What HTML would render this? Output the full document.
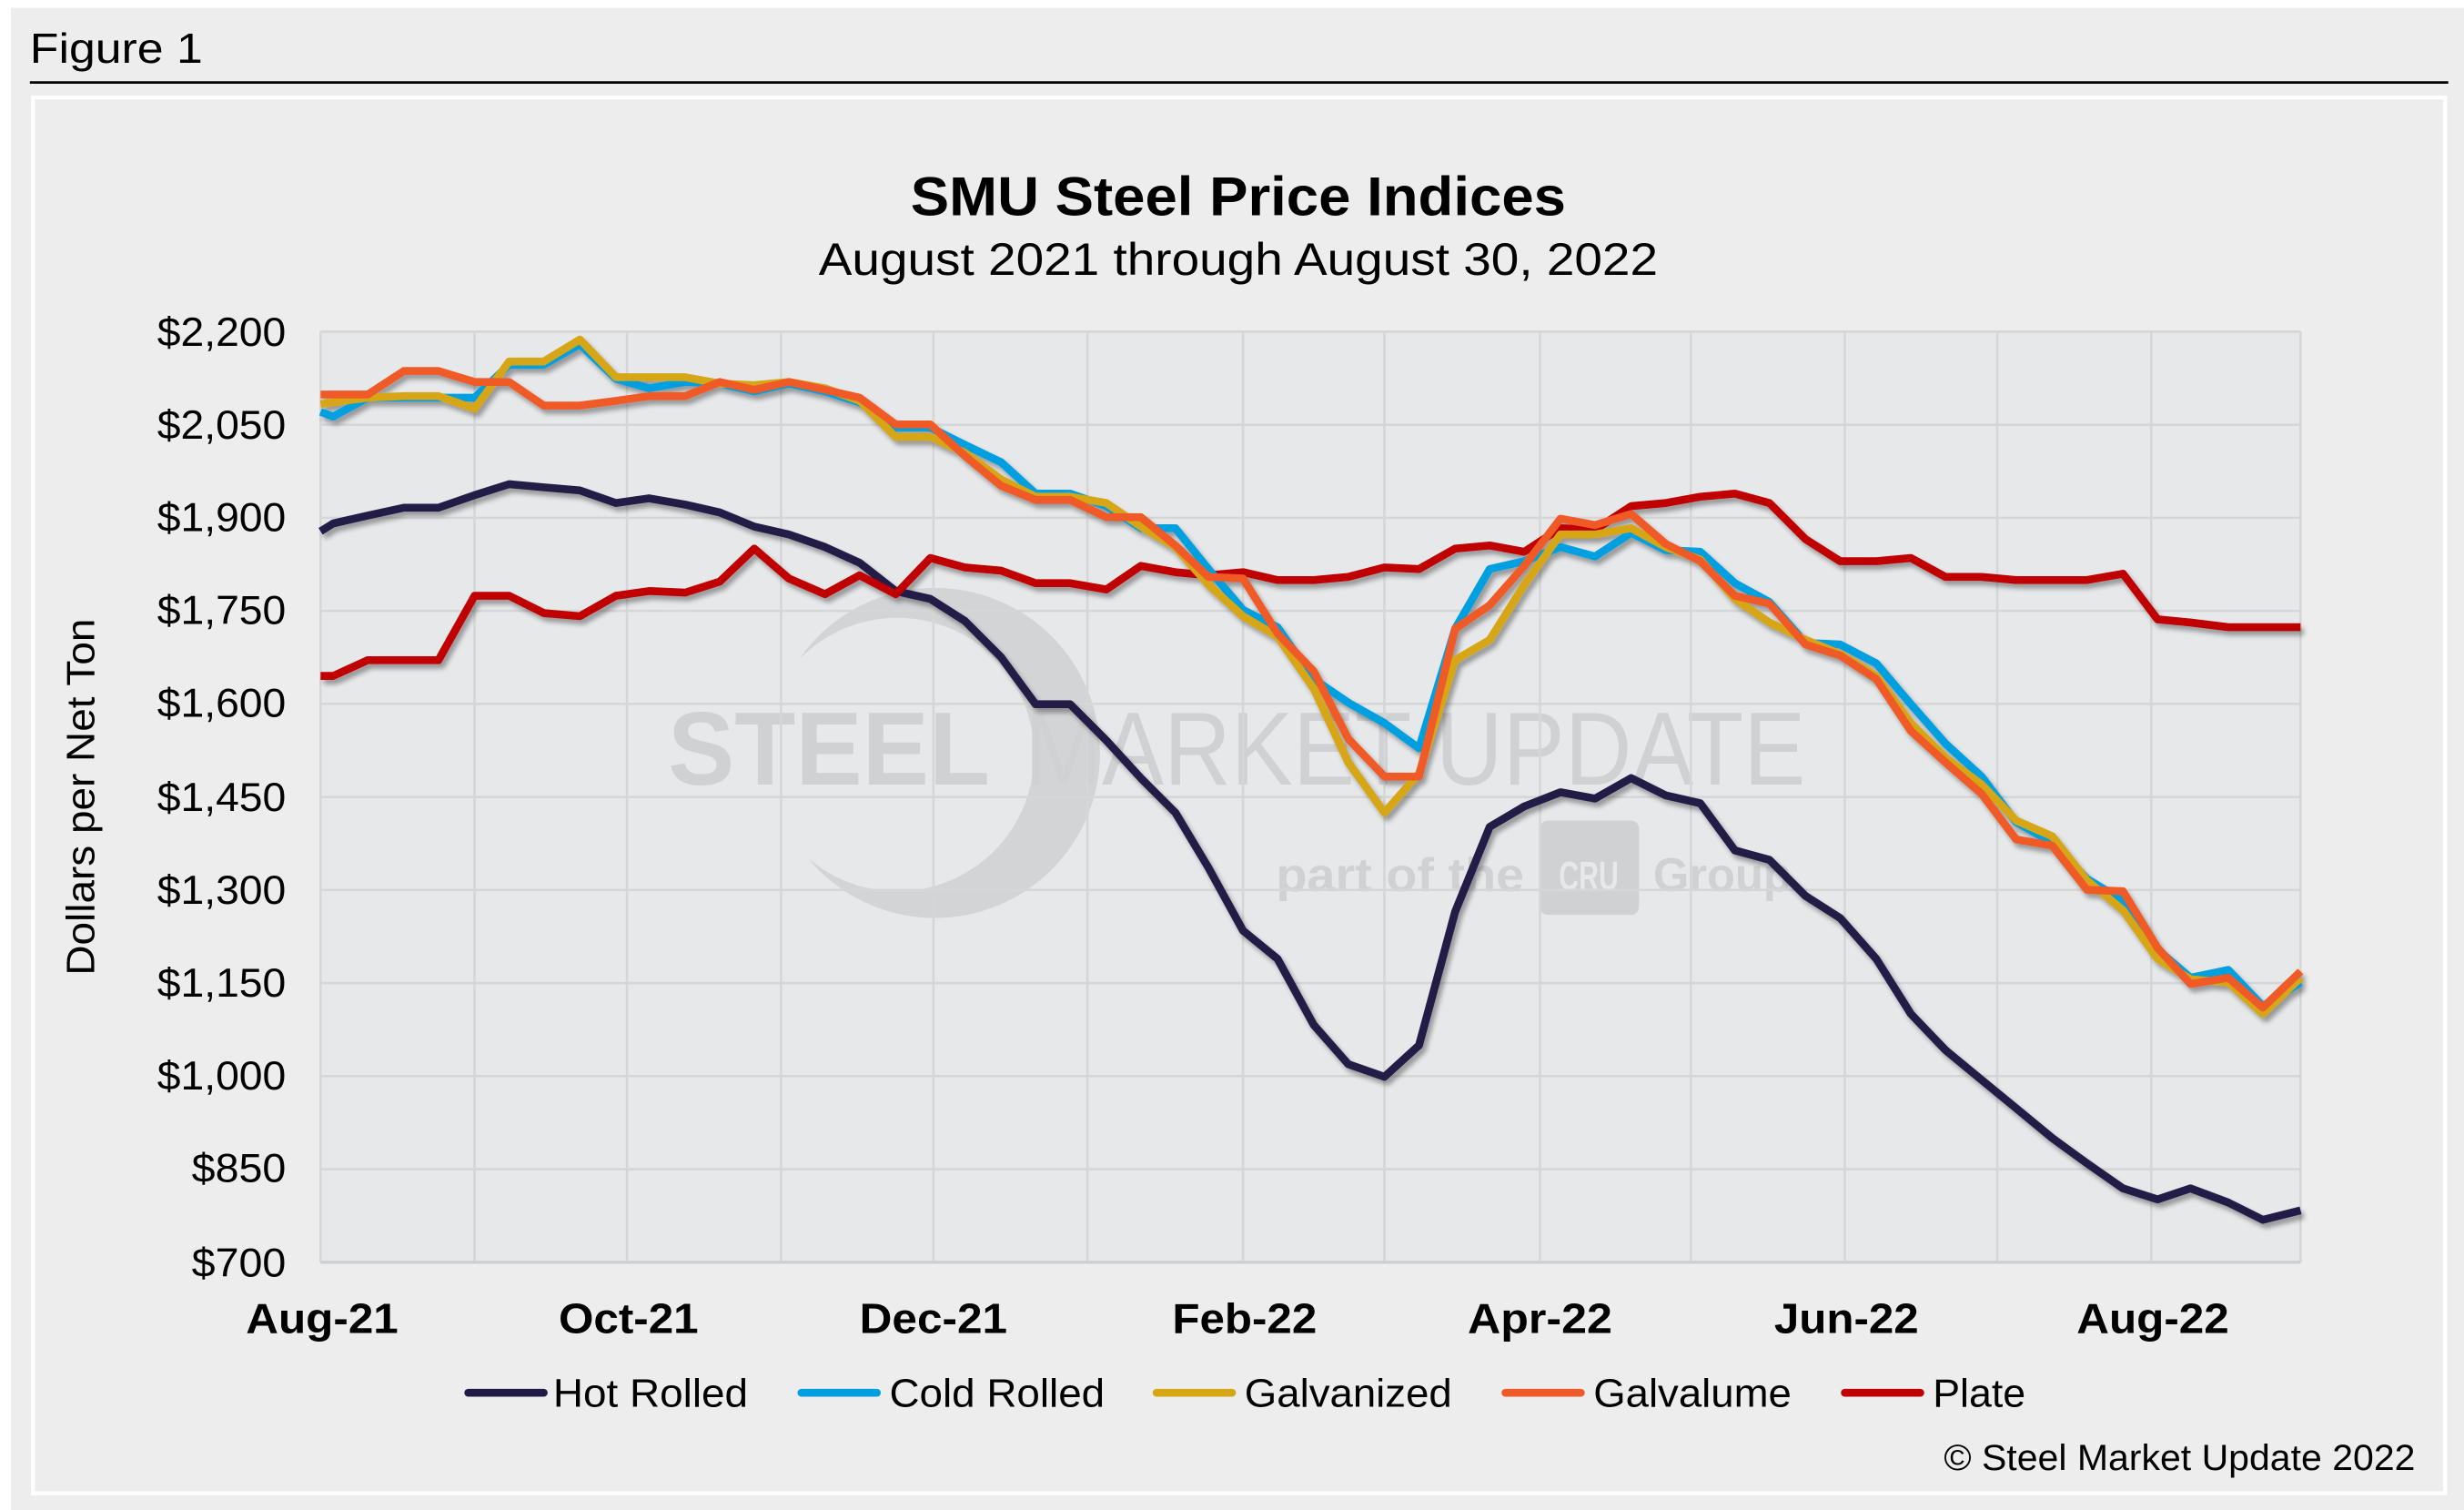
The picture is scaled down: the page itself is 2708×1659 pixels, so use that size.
<!DOCTYPE html>
<html><head><meta charset="utf-8">
<style>
html,body{margin:0;padding:0;background:#fff;}
svg{display:block;}
text{font-family:"Liberation Sans",Arial,sans-serif;}
</style></head>
<body>
<svg width="2708" height="1659" viewBox="0 0 1568 960.6" preserveAspectRatio="none" xmlns="http://www.w3.org/2000/svg">
<defs>
<filter id="sh" x="-5%" y="-5%" width="110%" height="110%">
<feGaussianBlur in="SourceAlpha" stdDeviation="1.5"/>
<feOffset dx="2" dy="3" result="o"/>
<feComponentTransfer><feFuncA type="linear" slope="0.35"/></feComponentTransfer>
<feMerge><feMergeNode/><feMergeNode in="SourceGraphic"/></feMerge>
</filter>
<clipPath id="pc"><rect x="204" y="211" width="1260" height="592"/></clipPath>
</defs>
<rect x="0" y="0" width="1568" height="960.6" fill="#fff"/>
<rect x="7" y="5" width="1561" height="955.6" fill="#ededed"/>
<text x="19" y="40" font-size="27" fill="#000" textLength="110" lengthAdjust="spacingAndGlyphs">Figure 1</text>
<line x1="19" y1="52.5" x2="1558" y2="52.5" stroke="#000" stroke-width="1.6"/>
<rect x="21" y="62" width="1535" height="888" fill="#ededed" stroke="#fff" stroke-width="2.5"/>
<text x="788" y="137" font-size="35" font-weight="bold" text-anchor="middle" textLength="417" lengthAdjust="spacingAndGlyphs">SMU Steel Price Indices</text>
<text x="788" y="175" font-size="29" text-anchor="middle" textLength="534" lengthAdjust="spacingAndGlyphs">August 2021 through August 30, 2022</text>
<rect x="204" y="211" width="1260" height="592" fill="#e7e8ea"/>
<!-- watermark -->
<g clip-path="url(#pc)">
<circle cx="595" cy="479" r="105" fill="#d3d4d6"/>
<circle cx="571" cy="480" r="87" fill="#e7e8ea"/>
</g>
<g fill="#d0d1d3">
<text x="425" y="499" font-size="66" font-weight="bold" textLength="205" lengthAdjust="spacingAndGlyphs">STEEL</text>
<text x="652" y="499" font-size="66" textLength="497" lengthAdjust="spacingAndGlyphs">MARKET UPDATE</text>
<text x="812" y="567" font-size="30" font-weight="bold" textLength="158" lengthAdjust="spacingAndGlyphs">part of the</text>
<rect x="980" y="522" width="63" height="60" rx="5"/>
<text x="1052" y="567" font-size="30" font-weight="bold" textLength="88" lengthAdjust="spacingAndGlyphs">Group</text>
</g>
<text x="1011" y="566" font-size="26" font-weight="bold" fill="#e7e8ea" text-anchor="middle" textLength="38" lengthAdjust="spacingAndGlyphs">CRU</text>
<g stroke="#d6d6d6" stroke-width="1.5">
<line x1="204" y1="211" x2="1464" y2="211"/><line x1="204" y1="270.2" x2="1464" y2="270.2"/>
<line x1="204" y1="329.4" x2="1464" y2="329.4"/><line x1="204" y1="388.6" x2="1464" y2="388.6"/>
<line x1="204" y1="447.8" x2="1464" y2="447.8"/><line x1="204" y1="507" x2="1464" y2="507"/>
<line x1="204" y1="566.2" x2="1464" y2="566.2"/><line x1="204" y1="625.4" x2="1464" y2="625.4"/>
<line x1="204" y1="684.6" x2="1464" y2="684.6"/><line x1="204" y1="743.8" x2="1464" y2="743.8"/>
<line x1="204" y1="211" x2="204" y2="803"/><line x1="302" y1="211" x2="302" y2="803"/>
<line x1="399" y1="211" x2="399" y2="803"/><line x1="497" y1="211" x2="497" y2="803"/>
<line x1="594" y1="211" x2="594" y2="803"/><line x1="692" y1="211" x2="692" y2="803"/>
<line x1="791" y1="211" x2="791" y2="803"/><line x1="881" y1="211" x2="881" y2="803"/>
<line x1="980" y1="211" x2="980" y2="803"/><line x1="1076" y1="211" x2="1076" y2="803"/>
<line x1="1174" y1="211" x2="1174" y2="803"/><line x1="1271" y1="211" x2="1271" y2="803"/>
<line x1="1369" y1="211" x2="1369" y2="803"/><line x1="1464" y1="211" x2="1464" y2="803"/>
</g>
<line x1="204" y1="803" x2="1464" y2="803" stroke="#cfcfcf" stroke-width="2"/>
<g font-size="26" text-anchor="end" fill="#000">
<text x="182" y="220" textLength="82" lengthAdjust="spacingAndGlyphs">$2,200</text>
<text x="182" y="279" textLength="82" lengthAdjust="spacingAndGlyphs">$2,050</text>
<text x="182" y="338" textLength="82" lengthAdjust="spacingAndGlyphs">$1,900</text>
<text x="182" y="397" textLength="82" lengthAdjust="spacingAndGlyphs">$1,750</text>
<text x="182" y="456" textLength="82" lengthAdjust="spacingAndGlyphs">$1,600</text>
<text x="182" y="516" textLength="82" lengthAdjust="spacingAndGlyphs">$1,450</text>
<text x="182" y="575" textLength="82" lengthAdjust="spacingAndGlyphs">$1,300</text>
<text x="182" y="634" textLength="82" lengthAdjust="spacingAndGlyphs">$1,150</text>
<text x="182" y="693" textLength="82" lengthAdjust="spacingAndGlyphs">$1,000</text>
<text x="182" y="752" textLength="60" lengthAdjust="spacingAndGlyphs">$850</text>
<text x="182" y="812" textLength="60" lengthAdjust="spacingAndGlyphs">$700</text>
</g>
<text transform="translate(60,507) rotate(-90)" font-size="25" text-anchor="middle" textLength="227" lengthAdjust="spacingAndGlyphs">Dollars per Net Ton</text>
<g font-size="27" font-weight="bold" text-anchor="middle">
<text x="205" y="848" textLength="97" lengthAdjust="spacingAndGlyphs">Aug-21</text>
<text x="400" y="848" textLength="89" lengthAdjust="spacingAndGlyphs">Oct-21</text>
<text x="594" y="848" textLength="94" lengthAdjust="spacingAndGlyphs">Dec-21</text>
<text x="792" y="848" textLength="92" lengthAdjust="spacingAndGlyphs">Feb-22</text>
<text x="980" y="848" textLength="92" lengthAdjust="spacingAndGlyphs">Apr-22</text>
<text x="1175" y="848" textLength="92" lengthAdjust="spacingAndGlyphs">Jun-22</text>
<text x="1370" y="848" textLength="97" lengthAdjust="spacingAndGlyphs">Aug-22</text>
</g>
<g fill="none" stroke-width="5" stroke-linejoin="round" filter="url(#sh)">
<polyline stroke="#211a47" points="204,338 212,333 234,328 257,323 279,323 302,315 324,308 346,310 369,312 392,320 413,317 436,321 458,326 480,335 502,340 525,348 547,358 570,376 592,381 614,395 637,418 659,448 681,448 704,471 726,495 748,517 769,552 791,592 813,610 836,652 858,677 881,685 903,665 926,580 948,526 970,513 993,504 1015,508 1038,495 1060,506 1082,511 1104,541 1126,547 1149,570 1171,584 1194,610 1216,645 1238,668 1261,687 1283,705 1306,724 1328,740 1351,756 1373,763 1394,756 1418,765 1440,776 1464,770"/>
<polyline stroke="#c00000" points="204,430 212,430 234,420 257,420 279,420 302,379 324,379 346,390 369,392 392,379 413,376 436,377 458,370 480,349 502,368 525,378 547,366 570,378 592,355 614,361 637,363 659,371 681,371 704,375 726,360 748,364 769,366 791,364 813,369 836,369 858,367 881,361 903,362 926,349 948,347 970,351 993,336 1015,337 1038,322 1060,320 1082,316 1104,314 1126,320 1149,343 1171,357 1194,357 1216,355 1238,367 1261,367 1283,369 1306,369 1328,369 1351,365 1373,394 1394,396 1418,399 1440,399 1464,399"/>
<polyline stroke="#00a0e0" points="204,262 212,265 234,253 257,253 279,253 302,253 324,232 346,232 369,219 392,241 413,247 436,243 458,244 480,249 502,244 525,249 547,256 570,272 592,272 614,283 637,294 659,314 681,314 704,322 726,336 748,336 769,362 791,388 813,399 836,432 858,447 881,460 903,476 926,400 948,362 970,357 993,348 1015,354 1038,339 1060,350 1082,351 1104,371 1126,383 1149,409 1171,410 1194,422 1216,448 1238,473 1261,494 1283,523 1306,536 1328,559 1351,573 1373,604 1394,622 1418,617 1440,640 1464,625"/>
<polyline stroke="#d6a615" points="204,257 234,253 257,252 279,252 302,260 324,230 346,230 369,216 392,240 413,240 436,240 458,244 480,245 502,243 525,247 547,255 570,278 592,278 614,288 637,305 659,316 681,316 704,320 726,335 748,348 769,372 791,392 813,405 836,438 858,485 881,517 903,492 926,420 948,407 970,372 993,340 1015,340 1038,336 1060,348 1082,356 1104,381 1126,396 1149,407 1171,416 1194,430 1216,460 1238,482 1261,499 1283,522 1306,532 1328,560 1351,579 1373,610 1394,623 1418,625 1440,645 1464,622"/>
<polyline stroke="#f05a28" points="204,251 234,251 257,236 279,236 302,243 324,243 346,258 369,258 392,255 413,252 436,252 458,243 480,248 502,243 525,248 547,253 570,270 592,270 614,290 637,309 659,318 681,318 704,329 726,329 748,347 769,367 791,368 813,403 836,427 858,470 881,494 903,494 926,400 948,385 970,360 993,330 1015,334 1038,327 1060,346 1082,357 1104,379 1126,384 1149,410 1171,417 1194,432 1216,465 1238,485 1261,505 1283,534 1306,538 1328,566 1351,567 1373,603 1394,626 1418,622 1440,641 1464,618"/>
</g>
<g stroke-width="5" stroke-linecap="round">
<line x1="298" y1="886" x2="346" y2="886" stroke="#211a47"/>
<line x1="510" y1="886" x2="558" y2="886" stroke="#00a0e0"/>
<line x1="736" y1="886" x2="784" y2="886" stroke="#d6a615"/>
<line x1="958" y1="886" x2="1006" y2="886" stroke="#f05a28"/>
<line x1="1174" y1="886" x2="1222" y2="886" stroke="#c00000"/>
</g>
<g font-size="25">
<text x="352" y="895" textLength="124" lengthAdjust="spacingAndGlyphs">Hot Rolled</text>
<text x="566" y="895" textLength="137" lengthAdjust="spacingAndGlyphs">Cold Rolled</text>
<text x="792" y="895" textLength="132" lengthAdjust="spacingAndGlyphs">Galvanized</text>
<text x="1014" y="895" textLength="126" lengthAdjust="spacingAndGlyphs">Galvalume</text>
<text x="1230" y="895" textLength="59" lengthAdjust="spacingAndGlyphs">Plate</text>
</g>
<text x="1537" y="935" font-size="23" text-anchor="end" textLength="300" lengthAdjust="spacingAndGlyphs">© Steel Market Update 2022</text>
</svg>
</body></html>
